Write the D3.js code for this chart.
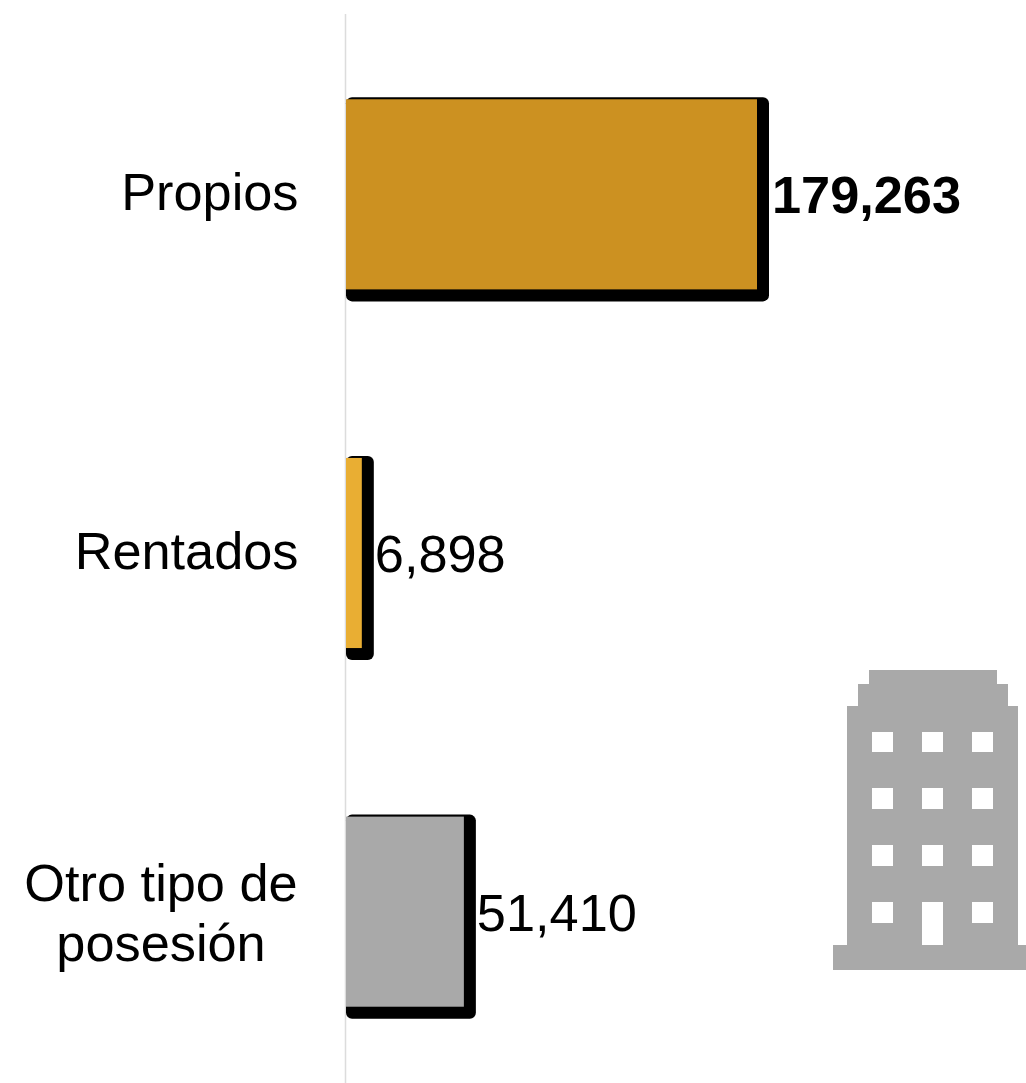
<!DOCTYPE html>
<html>
<head>
<meta charset="utf-8">
<script src="https://cdn.jsdelivr.net/npm/d3@7/dist/d3.min.js"></script>
<style>
html,body{margin:0;padding:0;background:#fff;overflow:hidden}
svg{display:block}
text{font-family:"Liberation Sans",Arial,sans-serif;font-size:52.3px;fill:#000}
</style>
</head>
<body>
<svg id="chart" width="1026" height="1083"></svg>
<script>
const categories = [["Propios"], ["Rentados"], ["Otro tipo de", "posesión"]];
const values = [179263, 6898, 51410];
const colors = ["#CC9121", "#E9AE33", "#A9A9A9"];
const boldLabel = [true, false, false];

const svg = d3.select("#chart");
const keys = categories.map(c => c.join(" "));
const x = d3.scaleLinear().domain([0, 179263]).range([346, 757]);
const y = d3.scaleBand().domain(keys).range([15, 1091]).paddingInner(0.47).paddingOuter(0.235);
const fmt = d3.format(",");

const defs = svg.append("defs");
defs.append("filter").attr("id", "soft").attr("x", "-10%").attr("y", "-10%").attr("width", "120%").attr("height", "120%")
  .append("feGaussianBlur").attr("stdDeviation", 0.6);

svg.append("line").attr("x1", 345.5).attr("x2", 345.5).attr("y1", 14).attr("y2", 1083)
  .attr("stroke", "#dcdcdc").attr("stroke-width", 1.5);

const g = svg.selectAll("g.bar").data(keys).join("g").attr("class", "bar");

g.append("rect").attr("class", "shadow")
  .attr("x", 346)
  .attr("y", d => y(d) - 2)
  .attr("width", (d, i) => x(values[i]) - 346 + 12)
  .attr("height", y.bandwidth() + 14)
  .attr("rx", 6).attr("fill", "#000").attr("filter", "url(#soft)");

g.append("rect").attr("class", "fill")
  .attr("x", 346)
  .attr("y", d => y(d))
  .attr("width", (d, i) => x(values[i]) - 346)
  .attr("height", y.bandwidth())
  .attr("fill", (d, i) => colors[i]);

g.append("text")
  .attr("x", (d, i) => x(values[i]) + (i === 0 ? 15 : 13))
  .attr("y", d => y(d) + y.bandwidth() / 2 + 19)
  .attr("font-weight", (d, i) => boldLabel[i] ? "bold" : "normal")
  .text((d, i) => fmt(values[i]));

categories.forEach((lines, i) => {
  const cy = y(keys[i]) + y.bandwidth() / 2;
  if (lines.length === 1) {
    svg.append("text").attr("x", 298.5).attr("y", cy + 16)
      .attr("text-anchor", "end").text(lines[0]);
  } else {
    lines.forEach((t, j) => {
      svg.append("text").attr("x", 161).attr("y", cy - 11 + j * 60)
        .attr("text-anchor", "middle").text(t);
    });
  }
});

const icon = svg.append("g").attr("fill", "#A9A9A9");
const iconBlocks = [[869,670,128,15],[858,684,150,23],[847,706,171,240],[833,945,193,25]];
const iconHoles = [
  [872,732,21,20],[922,732,21,20],[972,732,21,20],
  [872,788,21,21],[922,788,21,21],[972,788,21,21],
  [872,845,21,21],[922,845,21,21],[972,845,21,21],
  [872,902,21,21],[922,902,21,43],[972,902,21,21]
];
icon.selectAll("rect").data(iconBlocks).join("rect")
  .attr("x", d => d[0]).attr("y", d => d[1]).attr("width", d => d[2]).attr("height", d => d[3]);
svg.append("g").attr("fill", "#fff").selectAll("rect").data(iconHoles).join("rect")
  .attr("x", d => d[0]).attr("y", d => d[1]).attr("width", d => d[2]).attr("height", d => d[3]);
</script>
</body>
</html>
